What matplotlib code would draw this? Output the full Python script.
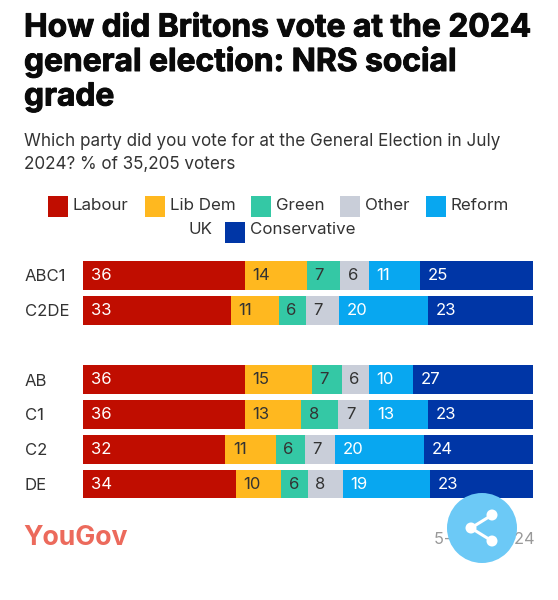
#!/usr/bin/env python3
import matplotlib
matplotlib.use('Agg')
import matplotlib.pyplot as plt
import matplotlib.patheffects as pe
from matplotlib.patches import Circle, Rectangle
import numpy as np

W, H = 558, 600

title_lines = ["How did Britons vote at the 2024", "general election: NRS social", "grade"]
subtitle_lines = ["Which party did you vote for at the General Election in July",
                  "2024? % of 35,205 voters"]

groups = ["ABC1", "C2DE", "AB", "C1", "C2", "DE"]
group_rows = [0, 1, 3, 4, 5, 6]
parties = ["Labour", "Lib Dem", "Green", "Other", "Reform UK", "Conservative"]
party_colors = ["#C00D00", "#FFB81F", "#34C8A5", "#C9CED9", "#08A7F0", "#0036A6"]
label_colors = ["white", "#333333", "#333333", "#333333", "white", "white"]

# the printed labels are these rounded
labour = [35.9, 32.8, 35.9, 35.9, 31.6, 33.9]
lib_dem = [13.7, 10.7, 14.9, 12.6, 11.2, 10.1]
green = [7.4, 6.0, 6.7, 8.2, 6.4, 5.9]
other = [6.4, 7.3, 6.0, 6.9, 6.8, 7.8]
reform = [11.4, 19.8, 9.8, 13.1, 19.8, 19.4]
conservative = [25.0, 23.4, 26.7, 23.3, 24.1, 22.9]

plt.rcParams['font.family'] = ['Inter', 'DejaVu Sans']
fig = plt.figure(figsize=(W / 100, H / 100), dpi=100, facecolor='white')

# page layer in pixel coordinates, for the text around the chart
page = fig.add_axes([0, 0, 1, 1])
page.set_xlim(0, W)
page.set_ylim(H, 0)
page.axis('off')

heavy = [pe.withStroke(linewidth=0.7, foreground='#0A0A0A')]
for y, line in zip([28, 62, 97], title_lines):
    page.text(24, y, line, fontsize=22.85, fontweight='bold', color='#0A0A0A', va='center', path_effects=heavy)
for y, line in zip([141, 165], subtitle_lines):
    page.text(24, y, line, fontsize=12.3, color='#333333', va='center')

# legend is centred and wraps inside "Reform UK", so it is placed by hand
legend_row1 = [(48, 0, "Labour"), (145, 1, "Lib Dem"), (251, 2, "Green"), (340, 3, "Other"), (426, 4, "Reform")]
for x, i, name in legend_row1:
    page.add_patch(Rectangle((x, 196), 20, 21, color=party_colors[i], lw=0))
    page.text(x + 25, 205, name, fontsize=12.2, color='#333333', va='center')
page.text(188, 230, "UK", fontsize=12.2, color='#333333', va='center')
page.add_patch(Rectangle((225, 222), 20, 21, color=party_colors[5], lw=0))
page.text(250, 230, "Conservative", fontsize=12.2, color='#333333', va='center')

# bars
ax = fig.add_axes([83 / W, 1 - 501.4 / H, 450 / W, (501.4 - 258) / H])
values = np.array([labour, lib_dem, green, other, reform, conservative])
shares = values / values.sum(axis=0) * 100
left = np.zeros(len(groups))
for i, party in enumerate(parties):
    ax.barh(group_rows, shares[i], left=left, height=0.83, color=party_colors[i], label=party)
    for row, start, val in zip(group_rows, left, values[i]):
        ax.text(start + 1.7, row, f"{round(val)}", color=label_colors[i], fontsize=12, va='center', ha='left')
    left += shares[i]
ax.set_xlim(0, 100)
ax.set_ylim(6.5, -0.5)
ax.set_xticks([])
ax.set_yticks(group_rows)
ax.set_yticklabels(groups, fontsize=12, color='#333333', ha='left')
ax.tick_params(axis='y', length=0, pad=42)
for s in ax.spines.values():
    s.set_visible(False)
ax.patch.set_alpha(0)

# footer
page.text(23, 538, "YouGov", fontsize=19.2, fontweight='bold', color='#EC6A5C', va='center')
page.text(535, 539, "5-8 Jul 2024", fontsize=11.8, color='#999999', va='center', ha='right')

# share button sits over everything
top = fig.add_axes([0, 0, 1, 1], zorder=5)
top.set_xlim(0, W)
top.set_ylim(H, 0)
top.axis('off')
top.add_patch(Circle((482, 528), 35, color='#6CC9F6', lw=0))
nodes = [(471, 528), (492, 515), (492, 541)]
top.plot([nodes[1][0], nodes[0][0], nodes[2][0]], [nodes[1][1], nodes[0][1], nodes[2][1]], color='white', lw=2.2)
for n in nodes:
    top.add_patch(Circle(n, 5.5, color='white', lw=0))

fig.savefig('out.png', dpi=100)
